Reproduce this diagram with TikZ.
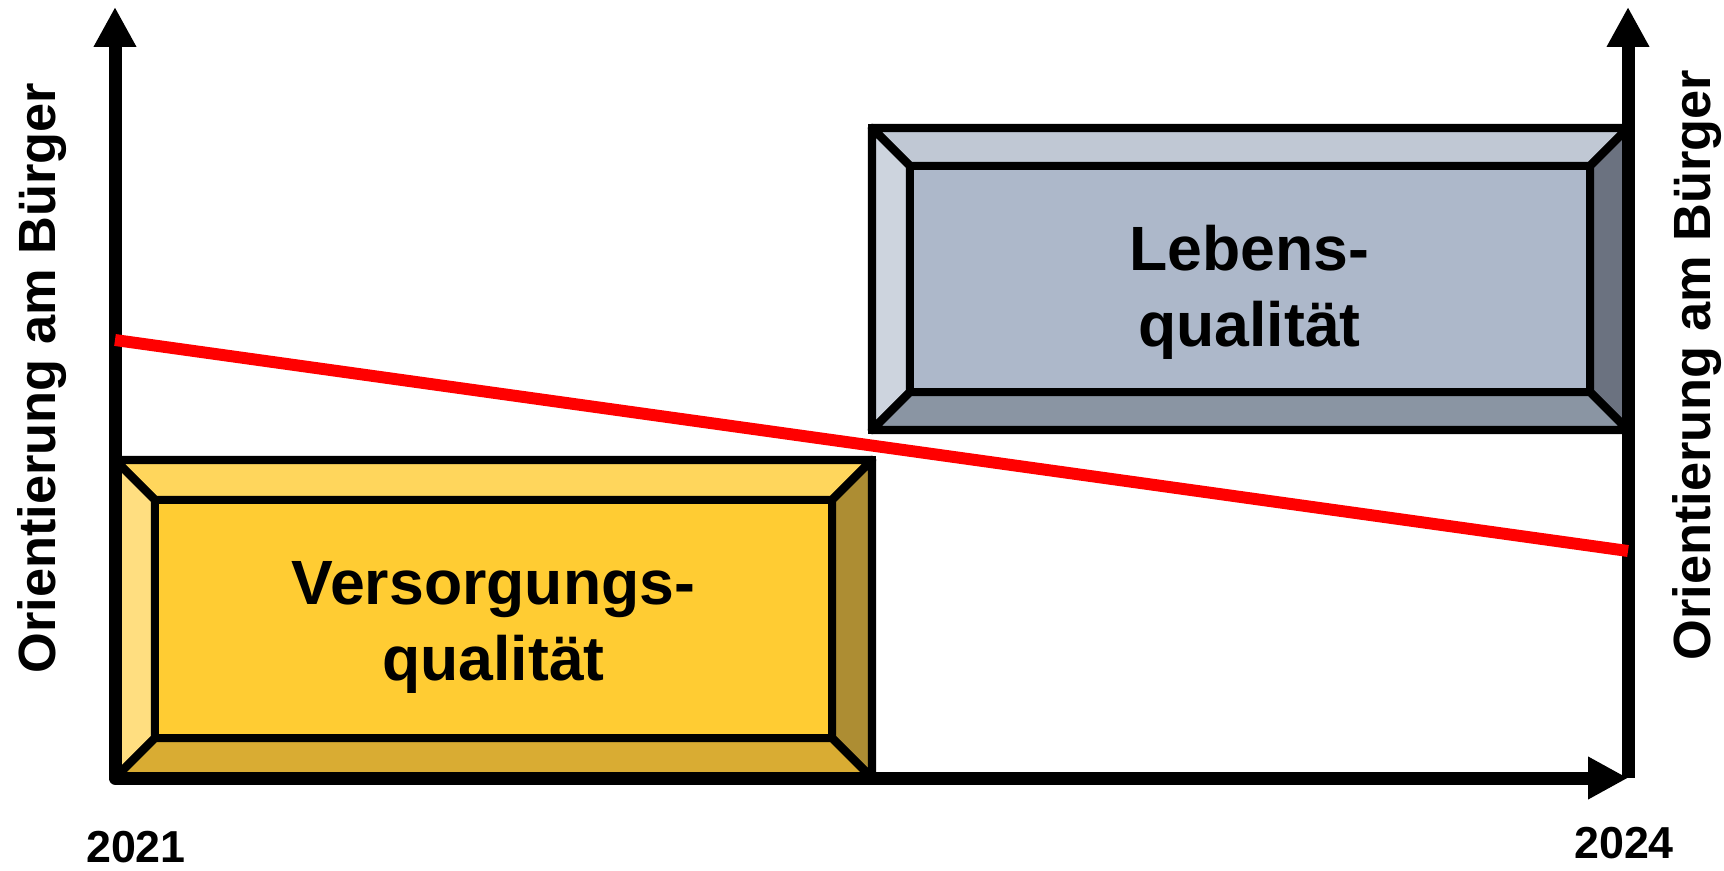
\documentclass[tikz,border=0pt]{standalone}
\usepackage{fontspec}
\setmainfont{Liberation Sans}
\usetikzlibrary{arrows.meta}
\definecolor{yelFront}{RGB}{255,204,51}
\definecolor{yelTop}{RGB}{255,214,92}
\definecolor{yelLeft}{RGB}{255,222,128}
\definecolor{yelRight}{RGB}{173,141,51}
\definecolor{yelBot}{RGB}{217,172,51}
\definecolor{gryFront}{RGB}{173,184,202}
\definecolor{gryTop}{RGB}{192,200,212}
\definecolor{gryLeft}{RGB}{205,212,222}
\definecolor{gryRight}{RGB}{107,114,128}
\definecolor{gryBot}{RGB}{138,149,163}
\tikzset{
  boxline/.style={line width=4.8pt, draw=black},
  faceline/.style={boxline, line join=round},
  axisline/.style={line width=7.4pt, line join=round},
  axistip/.tip={Triangle[length=22.7pt, width=22.7pt]},
  boxtext/.style={align=center, font=\fontsize{35.6}{43.6}\selectfont\bfseries},
  axistext/.style={rotate=90, anchor=base, font=\fontsize{29.8}{36}\selectfont\bfseries},
  yeartext/.style={anchor=base, inner sep=0pt, font=\fontsize{25.5}{30}\selectfont\bfseries}
}
% outer corners (x1,y1)(x2,y2), bevel depth, colour prefix
\def\bevelbox(#1,#2)(#3,#4)#5#6{%
  \draw[faceline, fill=#6Top] (#1,#2) -- (#3,#2) -- (#3-#5,#2+#5) -- (#1+#5,#2+#5) -- cycle;
  \draw[faceline, fill=#6Left] (#1,#2) -- (#1+#5,#2+#5) -- (#1+#5,#4-#5) -- (#1,#4) -- cycle;
  \draw[faceline, fill=#6Right] (#3,#2) -- (#3,#4) -- (#3-#5,#4-#5) -- (#3-#5,#2+#5) -- cycle;
  \draw[faceline, fill=#6Bot] (#1,#4) -- (#3,#4) -- (#3-#5,#4-#5) -- (#1+#5,#4-#5) -- cycle;
  \draw[boxline, fill=#6Front] (#1+#5,#2+#5) rectangle (#3-#5,#4-#5);
  \draw[boxline] (#1,#2) rectangle (#3,#4);
}

\begin{document}
\begin{tikzpicture}[x=0.02cm, y=-0.02cm]
		%%%%% START %%%%%
		\useasboundingbox (0,0) rectangle (1724,871);
		
		\coordinate (origin) at (115,778);
		\coordinate (ytop) at (115,7);
		\coordinate (xend) at (1628,778);
		\coordinate (ytopR) at (1628,7);
		
		\bevelbox(115,460)(872,778){40}{yel}
		\bevelbox(872,128)(1628,430){38}{gry}
		
		\draw[axisline, axistip-axistip] (ytop) -- (origin) -- (xend);
		\draw[axisline, -axistip] (xend) -- (ytopR);
		
		\node[boxtext] (versorgung) at (493.5,627.5) {Versorgungs-\\qualität};
		\node[boxtext] (leben) at (1249.5,292.5) {Lebens-\\qualität};
		
		\node[axistext] (buergerL) at (55,378) {Orientierung am Bürger};
		\node[axistext] (buergerR) at (1710,365) {Orientierung am Bürger};
		
		\node[yeartext] (jahrA) at (136,862) {2021};
		\node[yeartext] (jahrB) at (1624,858) {2024};
		
		\coordinate (trendA) at (115,340);
		\coordinate (trendB) at (1628,551);
		\draw[line width=6.8pt, color=red] (trendA) -- (trendB);
		
		%%%%% END %%%%%
\end{tikzpicture}
\end{document}
